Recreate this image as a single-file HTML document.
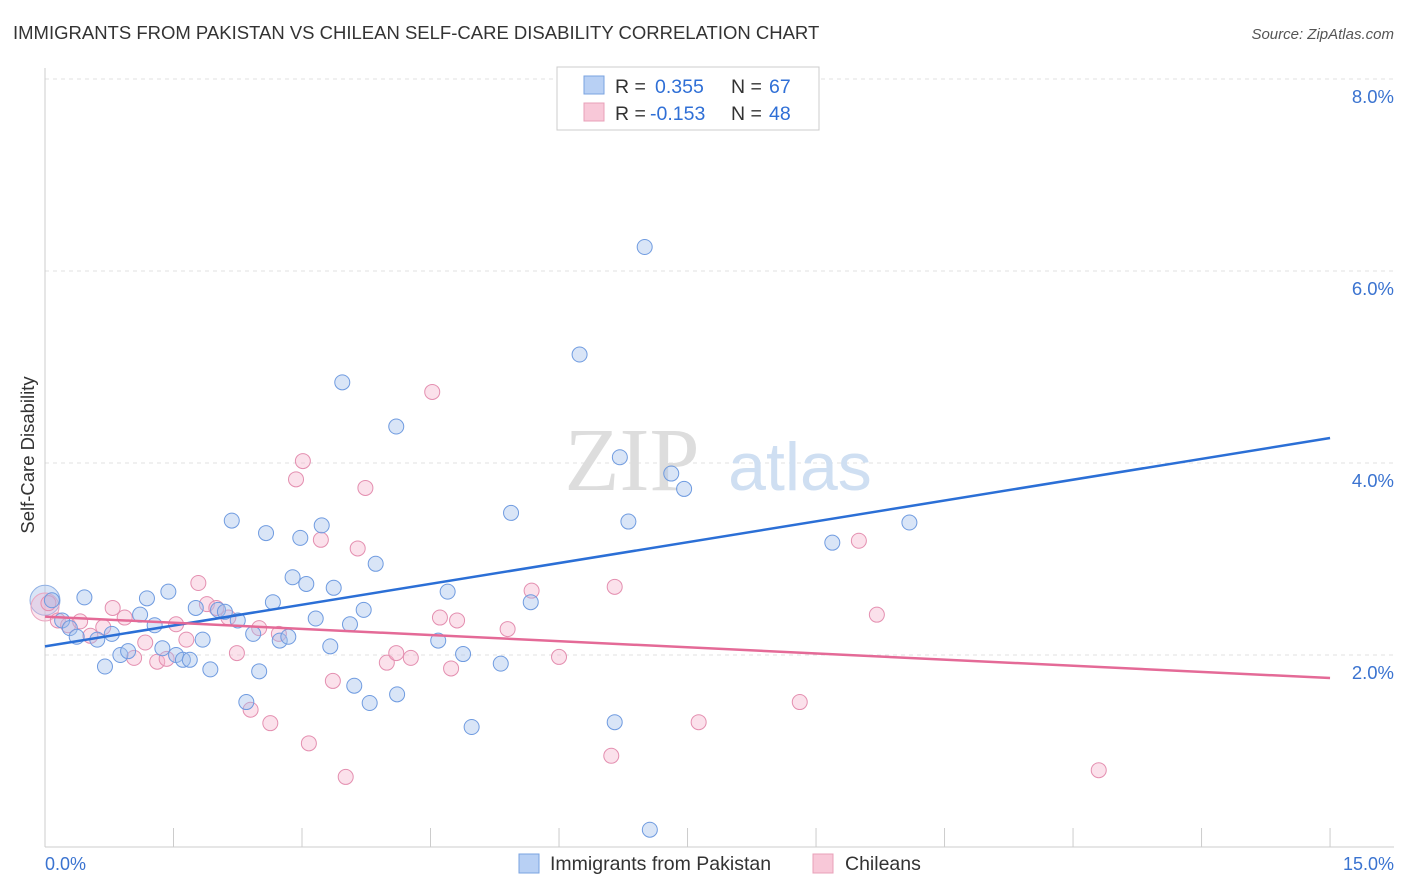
<!DOCTYPE html>
<html><head><meta charset="utf-8"><style>
body{margin:0;background:#fff;font-family:"Liberation Sans",sans-serif;}
svg{display:block}
</style></head><body>
<svg width="1406" height="892">
<text x="13" y="39" font-size="18.5" fill="#333">IMMIGRANTS FROM PAKISTAN VS CHILEAN SELF-CARE DISABILITY CORRELATION CHART</text>
<text x="1394" y="39" font-size="15" fill="#555" text-anchor="end" font-style="italic">Source: ZipAtlas.com</text>
<g id="grid"></g>
<text x="632" y="490" font-size="90" fill="#ddd" font-family="Liberation Serif" text-anchor="middle">ZIP</text>
<text x="800" y="490" font-size="68" fill="#cfdff2" text-anchor="middle">atlas</text>
<g id="pts"></g>
<g id="lines"></g>
<text x="34" y="455" font-size="18.5" fill="#333" text-anchor="middle" transform="rotate(-90 34 455)">Self-Care Disability</text>
<text x="45" y="870" font-size="18" fill="#3a73d0">0.0%</text>
<text x="1394" y="870" font-size="18" fill="#3a73d0" text-anchor="end">15.0%</text>
<g>
<rect x="557" y="67" width="262" height="63" fill="#fff" stroke="#ccc"/>
<rect x="584" y="76" width="20" height="18" fill="#b8d0f4" stroke="#7aa3e0"/>
<rect x="584" y="103" width="20" height="18" fill="#f8c8d8" stroke="#e8a0b8"/>
<text x="615" y="93" font-size="19.5" fill="#333">R =</text>
<text x="655" y="93" font-size="19.5" fill="#2f6fd6">0.355</text>
<text x="731" y="93" font-size="19.5" fill="#333">N =</text>
<text x="769" y="93" font-size="19.5" fill="#2f6fd6">67</text>
<text x="615" y="120" font-size="19.5" fill="#333">R =</text>
<text x="650" y="120" font-size="19.5" fill="#2f6fd6">-0.153</text>
<text x="731" y="120" font-size="19.5" fill="#333">N =</text>
<text x="769" y="120" font-size="19.5" fill="#2f6fd6">48</text>
</g>
<g>
<rect x="519" y="854" width="20" height="19" fill="#b8d0f4" stroke="#7aa3e0"/>
<text x="550" y="870" font-size="19.5" fill="#333">Immigrants from Pakistan</text>
<rect x="813" y="854" width="20" height="19" fill="#f8c8d8" stroke="#e8a0b8"/>
<text x="845" y="870" font-size="19.5" fill="#333">Chileans</text>
</g>
</svg>
<script>
const yTicks=[2,4,6,8];
const blueX=[0.08,0.20,0.29,0.37,0.46,0.61,0.70,0.78,0.88,0.97,1.11,1.19,1.28,1.37,1.44,1.53,1.61,1.69,1.76,1.84,1.93,2.02,2.10,2.18,2.25,2.35,2.43,2.50,2.58,2.66,2.74,2.84,2.89,2.98,3.05,3.16,3.23,3.33,3.37,3.47,3.56,3.61,3.72,3.79,3.86,4.10,4.11,4.59,4.70,4.88,4.98,5.32,5.44,5.67,6.24,6.65,6.71,6.81,7.00,7.06,7.31,7.46,9.19,10.09];
const blueY=[2.57,2.36,2.28,2.19,2.60,2.16,1.88,2.22,2.00,2.04,2.42,2.59,2.31,2.07,2.66,2.00,1.95,1.95,2.49,2.16,1.85,2.47,2.45,3.40,2.36,1.51,2.22,1.83,3.27,2.55,2.15,2.19,2.81,3.22,2.74,2.38,3.35,2.09,2.70,4.84,2.32,1.68,2.47,1.50,2.95,4.38,1.59,2.15,2.66,2.01,1.25,1.91,3.48,2.55,5.13,1.30,4.06,3.39,6.25,0.18,3.89,3.73,3.17,3.38];
const pinkX=[0.04,0.15,0.27,0.41,0.53,0.68,0.79,0.93,1.04,1.17,1.31,1.42,1.53,1.65,1.79,1.89,2.00,2.14,2.24,2.40,2.50,2.63,2.73,2.93,3.01,3.08,3.22,3.36,3.51,3.65,3.74,3.99,4.10,4.27,4.52,4.61,4.74,4.81,5.40,5.68,6.00,6.61,6.65,7.63,8.81,9.50,9.71,12.30];
const pinkY=[2.54,2.36,2.31,2.35,2.20,2.29,2.49,2.39,1.97,2.13,1.93,1.96,2.32,2.16,2.75,2.53,2.49,2.39,2.02,1.43,2.28,1.29,2.22,3.83,4.02,1.08,3.20,1.73,0.73,3.11,3.74,1.92,2.02,1.97,4.74,2.39,1.86,2.36,2.27,2.67,1.98,0.95,2.71,1.30,1.51,3.19,2.42,0.80];
const blueLine=[2.09,4.26];
const pinkLine=[2.40,1.76];
const xs=v=>45+v*85.67, ys=v=>847-v*96;
const NS='http://www.w3.org/2000/svg';
function mk(t,a,p){const e=document.createElementNS(NS,t);for(const k in a)e.setAttribute(k,a[k]);p.appendChild(e);return e;}
const g=document.getElementById('grid');
for(const t of yTicks){const l=mk('line',{x1:45,x2:1394,y1:ys(t),y2:ys(t),stroke:'#e2e2e2','stroke-dasharray':'4,4'},g);

const tx=mk('text',{x:1394,y:ys(t)+24,'font-size':18.5,fill:'#3a73d0','text-anchor':'end'},g);tx.textContent=t.toFixed(1)+'%';
}
const ax=mk('line',{x1:45,x2:45,y1:68,y2:847,stroke:'#ccc'},g);
const bx=mk('line',{x1:45,x2:1394,y1:847,y2:847,stroke:'#ccc'},g);
for(let i=0;i<=10;i++){const t=mk('line',{x1:xs(i*1.5),x2:xs(i*1.5),y1:828,y2:847,stroke:'#ccc'},g);}
const p=document.getElementById('pts');
const big1=mk('circle',{cx:xs(0),cy:ys(2.57),r:15,fill:'rgba(160,190,235,0.4)',stroke:'#8fb0e4'},p);
const big2=mk('circle',{cx:xs(0),cy:ys(2.5),r:14,fill:'rgba(245,180,205,0.35)',stroke:'#eaa6c0'},p);
pinkX.forEach((x,i)=>{const c=mk('circle',{cx:xs(x),cy:ys(pinkY[i]),r:7.5,fill:'rgba(245,180,205,0.4)',stroke:'#e48fb0','stroke-width':1},p);
});
blueX.forEach((x,i)=>{const c=mk('circle',{cx:xs(x),cy:ys(blueY[i]),r:7.5,fill:'rgba(160,190,235,0.4)',stroke:'#6f9be0','stroke-width':1},p);
});
const L=document.getElementById('lines');
const b=mk('line',{x1:xs(0),y1:ys(blueLine[0]),x2:xs(15),y2:ys(blueLine[1]),stroke:'#2b6fd6','stroke-width':2.5},L);
const q=mk('line',{x1:xs(0),y1:ys(pinkLine[0]),x2:xs(15),y2:ys(pinkLine[1]),stroke:'#e46a97','stroke-width':2.5},L);
</script>
</body></html>
